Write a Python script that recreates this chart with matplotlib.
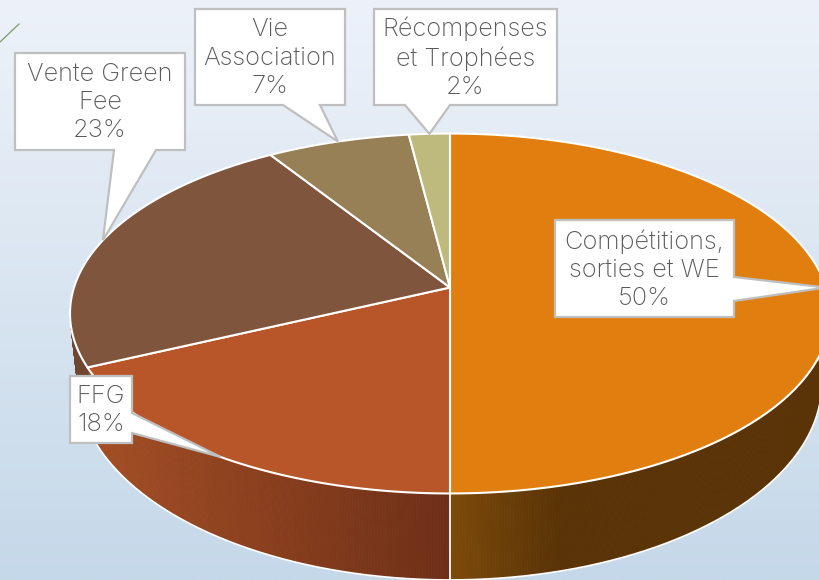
import numpy as np
import matplotlib
matplotlib.use("Agg")
import matplotlib.pyplot as plt
from matplotlib.patches import Polygon
from matplotlib.colors import to_rgb

labels = ["Compétitions,\nsorties et WE", "FFG", "Vente Green\nFee", "Vie\nAssociation", "Récompenses\net Trophées"]
values = [50, 18, 23, 7, 2]
top_colors = ["#E07F10", "#B95629", "#80553E", "#978055", "#BEB97D"]
side_left = ["#7C4A0A", "#A34E24", "#6E4632", "#6E5A3A", "#8A8658"]
side_right = ["#5A3306", "#6E2F17", "#6E4632", "#6E5A3A", "#8A8658"]
# label boxes: left, top, right, bottom, and where the pointer leaves the box
boxes = [(555, 220, 734, 317), (70, 376, 132, 443), (15, 53, 185, 150), (195, 9, 345, 105), (374, 9, 557, 105)]
tail_bases = [("right", 277, 301), ("right", 413, 433), ("bottom", 114, 156), ("bottom", 283, 320), ("bottom", 405, 450)]

CX, K = 450, 0.1445
TOP = dict(cy=287.5, a=176.2, b=376)
BOT = dict(cy=354.4, a=193.0, b=368)

def project(theta, disc):
    x, y = np.sin(theta), np.cos(theta)
    w = 1 + K * y
    return CX + disc["b"] * x / w, disc["cy"] - disc["a"] * y / w

def arc(t0, t1, disc, n=120):
    t = np.linspace(t0, t1, n)
    return np.column_stack(project(t, disc))

plt.rcParams["font.family"] = ["Inter", "DejaVu Sans"]
fig = plt.figure(figsize=(8.2, 5.8), dpi=100)
ax = fig.add_axes([0, 0, 1, 1])
ax.set_xlim(0, 820)
ax.set_ylim(580, 0)
ax.axis("off")

# background gradient
c0, c1 = np.array(to_rgb("#EDF2F9")), np.array(to_rgb("#C5D8E9"))
ramp = np.linspace(0, 1, 256)[:, None, None]
ax.imshow(c0 + (c1 - c0) * ramp, extent=(0, 820, 580, 0), aspect="auto", zorder=0)
ax.plot([0, 19], [42, 24], color="#7C9A6A", lw=0.9, zorder=1)

fractions = np.array(values, dtype=float) / sum(values)
edges = np.concatenate([[0], np.cumsum(fractions)]) * 2 * np.pi

# sides
for i in range(len(values)):
    ts = np.linspace(edges[i], edges[i + 1], max(int(fractions[i] * 900), 4))
    cl, cr = np.array(to_rgb(side_left[i])), np.array(to_rgb(side_right[i]))
    for t0, t1 in zip(ts[:-1], ts[1:]):
        a = arc(t0, t1, TOP, 2)
        b = arc(t1, t0, BOT, 2)
        xm = a[:, 0].mean()
        if i == 0:
            f = np.clip((xm - 450) / 110, 0, 1)
        elif i == 1:
            f = np.clip((xm - 90) / 360, 0, 1)
        else:
            f = 0
        col = cl + (cr - cl) * f
        ax.add_patch(Polygon(np.vstack([a, b]), closed=True, fc=col, ec=col, lw=0.6, zorder=2))

# white rims of the side
front = arc(np.radians(78), np.radians(252), BOT, 300)
ax.plot(front[:, 0], front[:, 1], color="white", lw=1.3, zorder=2.5)
p, q = project(edges[1], TOP), project(edges[1], BOT)
ax.plot([p[0], q[0]], [p[1], q[1]], color="white", lw=1.3, zorder=2.5)

# top face
centre = (CX, TOP["cy"])
for i in range(len(values)):
    pts = np.vstack([[centre], arc(edges[i], edges[i + 1], TOP, 150)])
    ax.add_patch(Polygon(pts, closed=True, fc=top_colors[i], ec="white", lw=1.5, joinstyle="round", zorder=3))

# callouts
mids = (edges[:-1] + edges[1:]) / 2
for i, (lab, val) in enumerate(zip(labels, values)):
    l, t, r, b = boxes[i]
    side, s0, s1 = tail_bases[i]
    tip = project(mids[i], TOP)
    if side == "right":
        pts = [(l, t), (r, t), (r, s0), tip, (r, s1), (r, b), (l, b)]
    else:
        pts = [(l, t), (r, t), (r, b), (s1, b), tip, (s0, b), (l, b)]
    ax.add_patch(Polygon(pts, closed=True, fc="white", ec="#BFBFBF", lw=1.6, joinstyle="miter", zorder=4))
    ax.text((l + r) / 2, (t + b) / 2 + 1, f"{lab}\n{val}%", ha="center", va="center",
            color="#5A5A5A", fontsize=18.3, fontweight="light", linespacing=1.28, zorder=5)

fig.savefig("out.png", dpi=100)
